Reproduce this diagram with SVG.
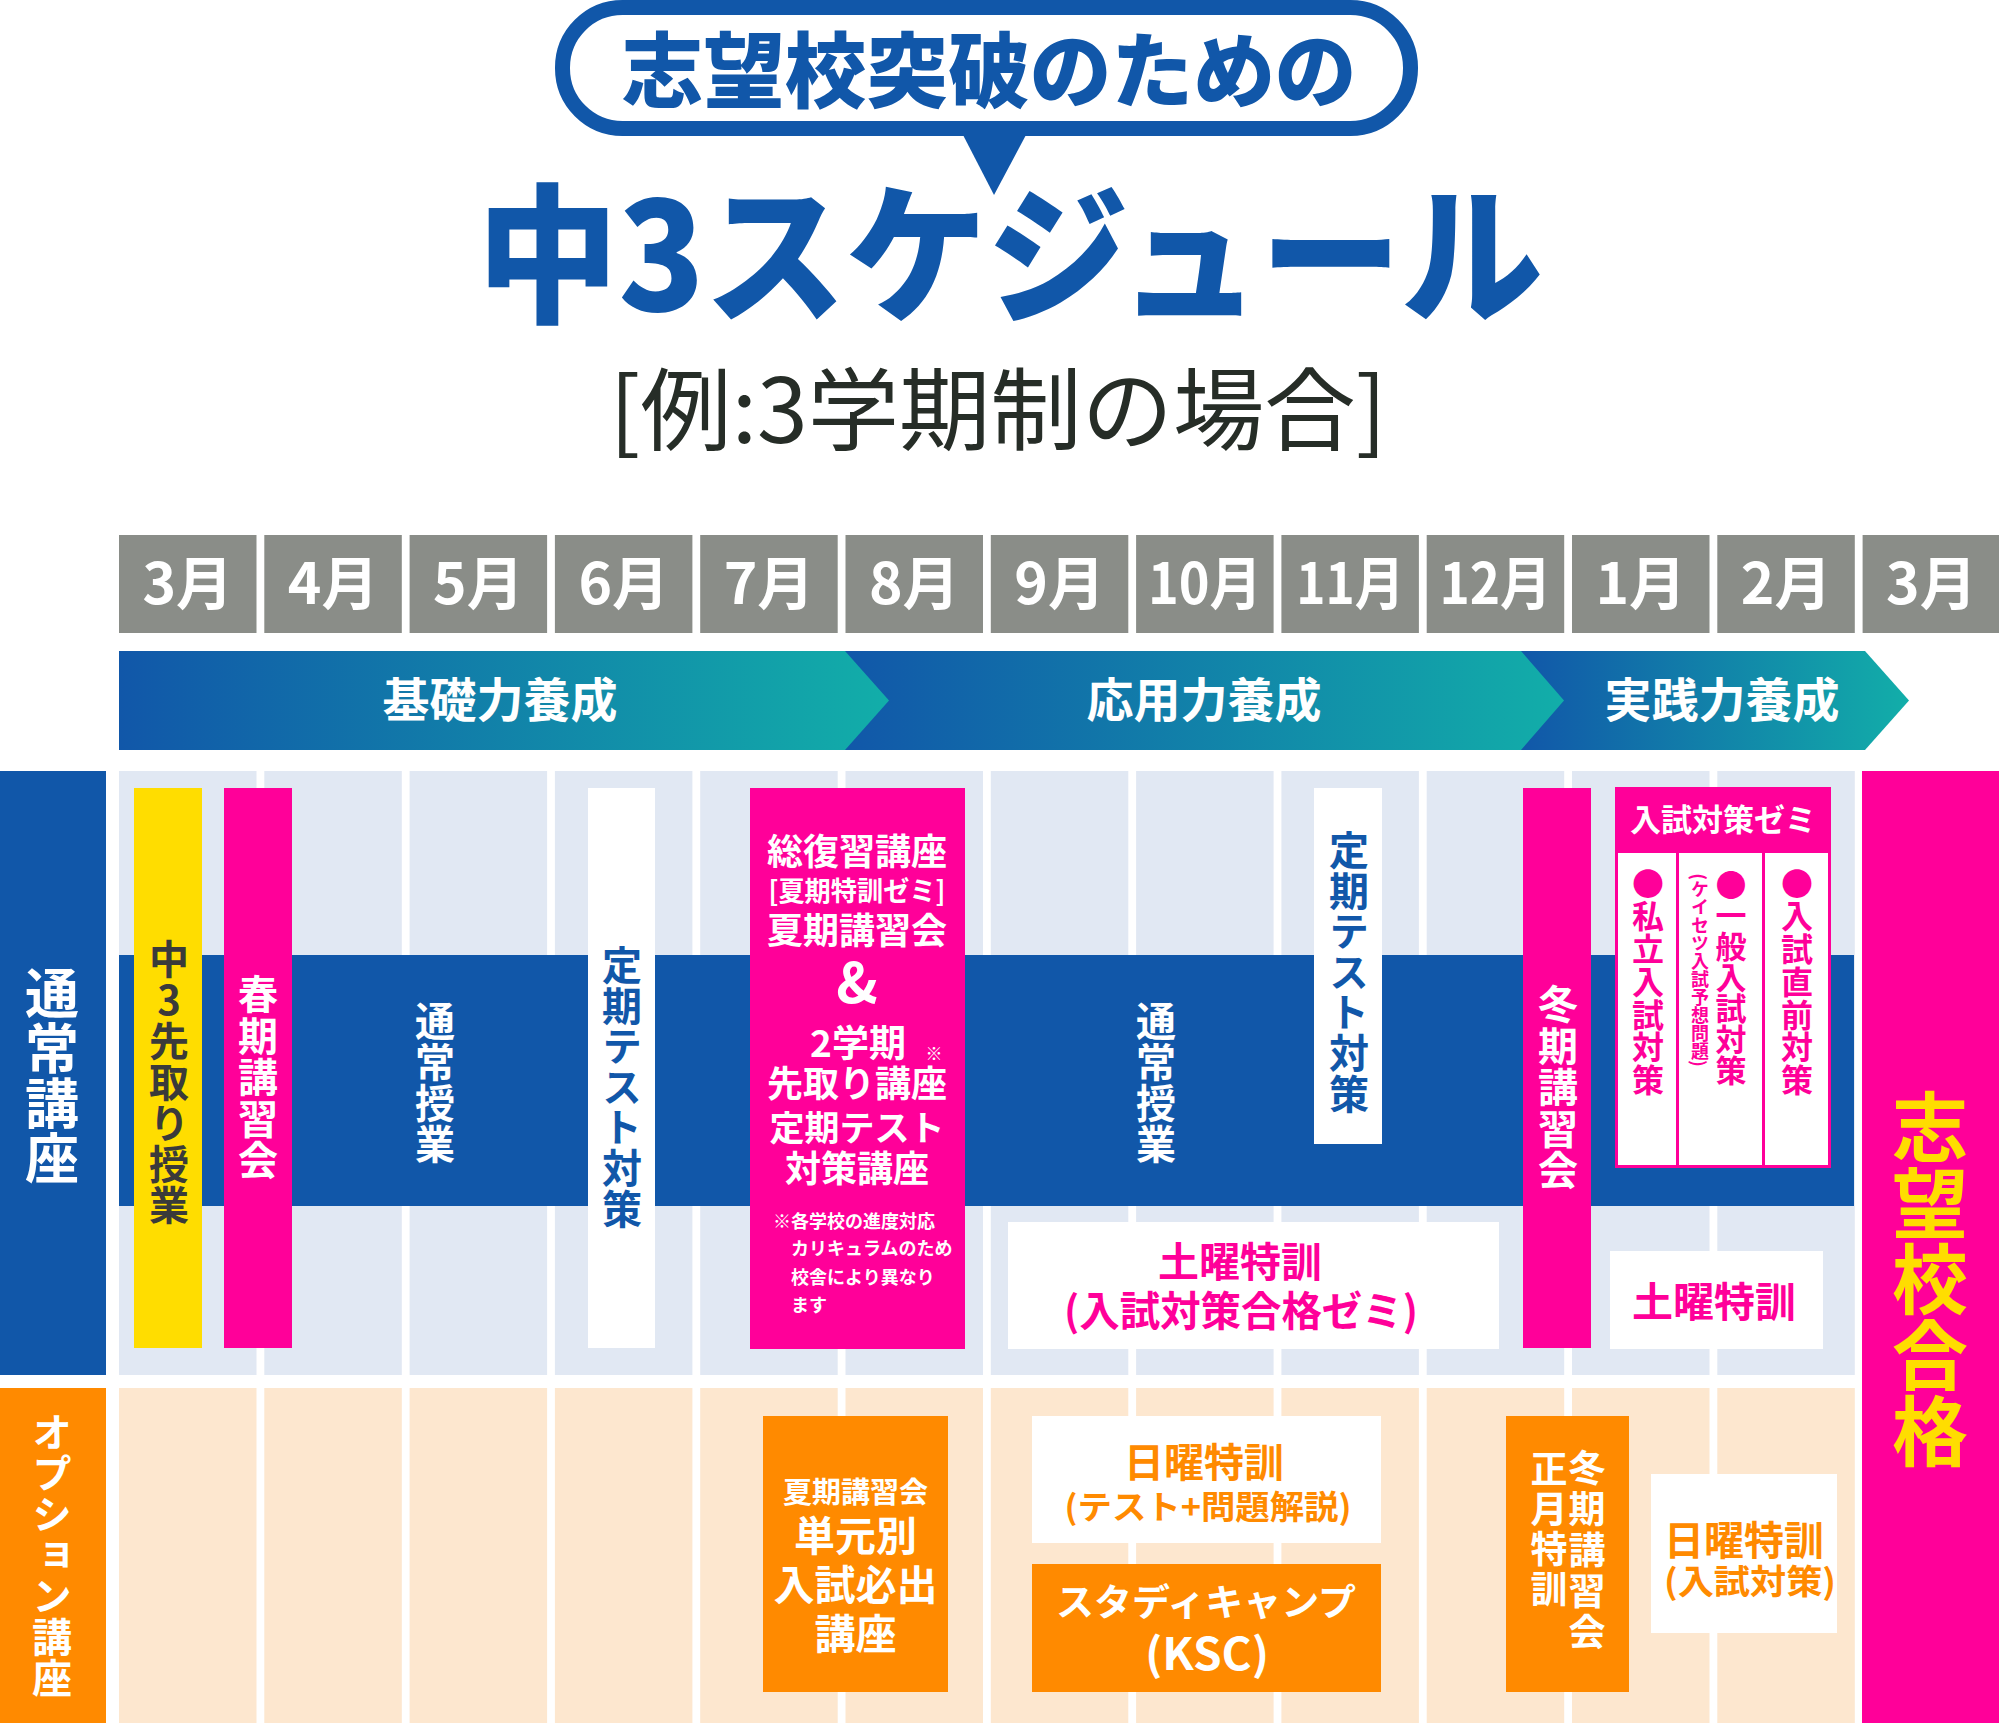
<svg xmlns="http://www.w3.org/2000/svg" width="1999" height="1723" viewBox="0 0 1999 1723">
<defs>
<style>
text{font-family:"Noto Sans CJK JP","Noto Sans",sans-serif;font-weight:700}
.k{font-weight:900}
.r{font-weight:400}
.c{text-anchor:middle}
.s{text-anchor:start}
.v{writing-mode:vertical-rl;text-anchor:middle}
.up{text-orientation:upright}
.w{fill:#ffffff}
.b{fill:#1157a9}
.m{fill:#ff0099}
.o{fill:#ff8a00}
.y{fill:#ffdd00}
.g{fill:#3a3a3a}
.lb{fill:#e1e8f3}
.lo{fill:#fde7cf}
.mon{fill:#8a8d88}
</style>
<linearGradient id="ph" x1="0" y1="0" x2="1" y2="0">
<stop offset="0" stop-color="#1157a9"/>
<stop offset="1" stop-color="#12aea9"/>
</linearGradient>
</defs>
<rect width="1999" height="1723" fill="#ffffff"/>

<g id="title">
<rect x="562.5" y="7.5" width="848" height="121" rx="60" fill="#ffffff" stroke="#1157a9" stroke-width="15"/>
<polygon points="962,133 1027,133 994,195" fill="#1157a9"/>
<text class="c b k" x="989" y="101" font-size="82" textLength="735" lengthAdjust="spacingAndGlyphs">志望校突破のための</text>
<text class="c b k" x="1010" y="311" font-size="150" textLength="1066" lengthAdjust="spacingAndGlyphs">中3スケジュール</text>
<text class="c r" x="998" y="443" font-size="90" fill="#262d27" textLength="777" lengthAdjust="spacingAndGlyphs">[例:3学期制の場合]</text>
</g>

<g id="months">
<rect class="mon" x="119" y="535" width="137.5" height="98"/>
<rect class="mon" x="264.3" y="535" width="137.5" height="98"/>
<rect class="mon" x="409.6" y="535" width="137.5" height="98"/>
<rect class="mon" x="554.9" y="535" width="137.5" height="98"/>
<rect class="mon" x="700.2" y="535" width="137.5" height="98"/>
<rect class="mon" x="845.5" y="535" width="137.5" height="98"/>
<rect class="mon" x="990.8" y="535" width="137.5" height="98"/>
<rect class="mon" x="1136.1" y="535" width="137.5" height="98"/>
<rect class="mon" x="1281.4" y="535" width="137.5" height="98"/>
<rect class="mon" x="1426.7" y="535" width="137.5" height="98"/>
<rect class="mon" x="1572" y="535" width="137.5" height="98"/>
<rect class="mon" x="1717.3" y="535" width="137.5" height="98"/>
<rect class="mon" x="1862.6" y="535" width="136.4" height="98"/>
<g font-size="57">
<text class="c w" x="187.8" y="604">3月</text>
<text class="c w" x="333.1" y="604">4月</text>
<text class="c w" x="478.4" y="604">5月</text>
<text class="c w" x="623.7" y="604">6月</text>
<text class="c w" x="769" y="604">7月</text>
<text class="c w" x="914.3" y="604">8月</text>
<text class="c w" x="1059.6" y="604">9月</text>
<text class="c w" x="1204.9" y="604" textLength="114" lengthAdjust="spacingAndGlyphs">10月</text>
<text class="c w" x="1350.2" y="604" textLength="108" lengthAdjust="spacingAndGlyphs">11月</text>
<text class="c w" x="1495.5" y="604" textLength="112" lengthAdjust="spacingAndGlyphs">12月</text>
<text class="c w" x="1640.8" y="604">1月</text>
<text class="c w" x="1786.1" y="604">2月</text>
<text class="c w" x="1931.4" y="604">3月</text>
</g>
</g>

<g id="phases">
<polygon points="1521,651 1865,651 1909,700.5 1865,750 1521,750" fill="url(#ph)"/>
<polygon points="845,651 1521,651 1564,700.5 1521,750 845,750" fill="url(#ph)"/>
<polygon points="119,651 845,651 889,700.5 845,750 119,750" fill="url(#ph)"/>
<text class="c w" x="500" y="717" font-size="47">基礎力養成</text>
<text class="c w" x="1204" y="717" font-size="47">応用力養成</text>
<text class="c w" x="1722" y="717" font-size="47">実践力養成</text>
</g>

<g id="grid">
<rect class="lb" x="119" y="771" width="137.5" height="604"/>
<rect class="lb" x="264.3" y="771" width="137.5" height="604"/>
<rect class="lb" x="409.6" y="771" width="137.5" height="604"/>
<rect class="lb" x="554.9" y="771" width="137.5" height="604"/>
<rect class="lb" x="700.2" y="771" width="137.5" height="604"/>
<rect class="lb" x="845.5" y="771" width="137.5" height="604"/>
<rect class="lb" x="990.8" y="771" width="137.5" height="604"/>
<rect class="lb" x="1136.1" y="771" width="137.5" height="604"/>
<rect class="lb" x="1281.4" y="771" width="137.5" height="604"/>
<rect class="lb" x="1426.7" y="771" width="137.5" height="604"/>
<rect class="lb" x="1572" y="771" width="137.5" height="604"/>
<rect class="lb" x="1717.3" y="771" width="137.5" height="604"/>
<rect class="lo" x="119" y="1388" width="137.5" height="335"/>
<rect class="lo" x="264.3" y="1388" width="137.5" height="335"/>
<rect class="lo" x="409.6" y="1388" width="137.5" height="335"/>
<rect class="lo" x="554.9" y="1388" width="137.5" height="335"/>
<rect class="lo" x="700.2" y="1388" width="137.5" height="335"/>
<rect class="lo" x="845.5" y="1388" width="137.5" height="335"/>
<rect class="lo" x="990.8" y="1388" width="137.5" height="335"/>
<rect class="lo" x="1136.1" y="1388" width="137.5" height="335"/>
<rect class="lo" x="1281.4" y="1388" width="137.5" height="335"/>
<rect class="lo" x="1426.7" y="1388" width="137.5" height="335"/>
<rect class="lo" x="1572" y="1388" width="137.5" height="335"/>
<rect class="lo" x="1717.3" y="1388" width="137.5" height="335"/>
<rect class="b" x="119" y="955" width="1735" height="251"/>
</g>

<g id="row-labels">
<g id="label-regular">
<rect class="b" x="0" y="771" width="106" height="604"/>
<text class="v w" x="52" y="1076" font-size="54" letter-spacing="1">通常講座</text>
</g>
<g id="label-option">
<rect class="o" x="0" y="1388" width="106" height="335"/>
<text class="v w" x="52" y="1555" font-size="40" letter-spacing="1">オプション講座</text>
</g>
</g>

<g id="connectors"></g>

<g id="n-sakidori">
<rect class="y" x="134" y="788" width="68" height="560"/>
<text class="v up g" x="169" y="1082" font-size="40" letter-spacing="1">中3先取り授業</text>
</g>
<g id="n-spring">
<rect class="m" x="224" y="788" width="68" height="560"/>
<text class="v w" x="258" y="1078" font-size="40" letter-spacing="1.5">春期講習会</text>
</g>
<g id="n-regular1">
<text class="v w" x="435" y="1083" font-size="40" letter-spacing="1">通常授業</text>
</g>
<g id="n-teiki1">
<rect class="w" x="588" y="788" width="67" height="560"/>
<text class="v b" x="622" y="1087" font-size="40" letter-spacing="0.6">定期テスト対策</text>
</g>
<g id="n-summer">
<rect class="m" x="750" y="788" width="215" height="561"/>
<text class="c w" x="857" y="865" font-size="36">総復習講座</text>
<text class="c w" x="857" y="901" font-size="27" textLength="177" lengthAdjust="spacingAndGlyphs">[夏期特訓ゼミ]</text>
<text class="c w" x="857" y="944" font-size="36">夏期講習会</text>
<text class="c w" x="857" y="1003" font-size="56">&amp;</text>
<text class="c w" x="858" y="1057" font-size="37">2学期</text>
<text class="c w" x="934" y="1060" font-size="17">※</text>
<text class="c w" x="857" y="1097" font-size="36">先取り講座</text>
<text class="c w" x="857" y="1141" font-size="35">定期テスト</text>
<text class="c w" x="857" y="1182" font-size="36">対策講座</text>
<text class="s w" x="773" y="1228" font-size="18">※各学校の進度対応</text>
<text class="s w" x="791" y="1255" font-size="18">カリキュラムのため</text>
<text class="s w" x="791" y="1284" font-size="18">校舎により異なり</text>
<text class="s w" x="791" y="1312" font-size="18">ます</text>
</g>
<g id="n-regular2">
<text class="v w" x="1156" y="1083" font-size="40" letter-spacing="1">通常授業</text>
</g>
<g id="n-saturday1">
<rect class="w" x="1008" y="1222" width="491" height="127"/>
<text class="c m" x="1240" y="1277" font-size="41">土曜特訓</text>
<text class="c m" x="1241" y="1326" font-size="41" textLength="354" lengthAdjust="spacingAndGlyphs">(入試対策合格ゼミ)</text>
</g>
<g id="n-teiki2">
<rect class="w" x="1314" y="788" width="68" height="356"/>
<text class="v b" x="1349" y="972" font-size="40" letter-spacing="0.6">定期テスト対策</text>
</g>
<g id="n-winter">
<rect class="m" x="1523" y="788" width="68" height="560"/>
<text class="v w" x="1558" y="1088" font-size="40" letter-spacing="1.5">冬期講習会</text>
</g>
<g id="n-zemi">
<rect class="m" x="1615" y="787" width="216" height="381"/>
<rect class="w" x="1618" y="853" width="58" height="312"/>
<rect class="w" x="1679" y="853" width="83" height="312"/>
<rect class="w" x="1765" y="853" width="63" height="312"/>
<text class="c w" x="1723" y="831" font-size="31">入試対策ゼミ</text>
<text class="v m" x="1648" y="982" font-size="32" letter-spacing="0.7">●私立入試対策</text>
<text class="v m" x="1700" y="970" font-size="18">(ケイセツ入試予想問題)</text>
<text class="v m" x="1731" y="977" font-size="31">●一般入試対策</text>
<text class="v m" x="1797" y="982" font-size="32" letter-spacing="0.7">●入試直前対策</text>
</g>
<g id="n-saturday2">
<rect class="w" x="1610" y="1251" width="213" height="98"/>
<text class="c m" x="1714" y="1317" font-size="41">土曜特訓</text>
</g>
<g id="n-goal">
<rect class="m" x="1862" y="771" width="137" height="952"/>
<text class="v y" x="1930" y="1279" font-size="76">志望校合格</text>
</g>

<g id="n-opt-summer">
<rect class="o" x="763" y="1416" width="185" height="276"/>
<text class="c w" x="855.5" y="1503" font-size="29">夏期講習会</text>
<text class="c w" x="855.5" y="1551" font-size="41">単元別</text>
<text class="c w" x="855.5" y="1600" font-size="41">入試必出</text>
<text class="c w" x="855.5" y="1649" font-size="41">講座</text>
</g>
<g id="n-opt-sunday1">
<rect class="w" x="1032" y="1416" width="349" height="127"/>
<text class="c o" x="1204" y="1477" font-size="40">日曜特訓</text>
<text class="c o" x="1208" y="1519" font-size="33" textLength="287" lengthAdjust="spacingAndGlyphs">(テスト+問題解説)</text>
</g>
<g id="n-opt-camp">
<rect class="o" x="1032" y="1564" width="349" height="128"/>
<text class="c w" x="1206" y="1616" font-size="37" textLength="300" lengthAdjust="spacingAndGlyphs">スタディキャンプ</text>
<text class="c w" x="1207" y="1670" font-size="44" textLength="124" lengthAdjust="spacingAndGlyphs">(KSC)</text>
</g>
<g id="n-opt-winter">
<rect class="o" x="1506" y="1416" width="123" height="276"/>
<text class="v w" x="1587" y="1552" font-size="37" letter-spacing="4">冬期講習会</text>
<text class="v w" x="1549" y="1530" font-size="37" letter-spacing="3">正月特訓</text>
</g>
<g id="n-opt-sunday2">
<rect class="w" x="1651" y="1474" width="186" height="159"/>
<text class="c o" x="1744" y="1555" font-size="40">日曜特訓</text>
<text class="c o" x="1750" y="1594" font-size="34" textLength="172" lengthAdjust="spacingAndGlyphs">(入試対策)</text>
</g>
</svg>
